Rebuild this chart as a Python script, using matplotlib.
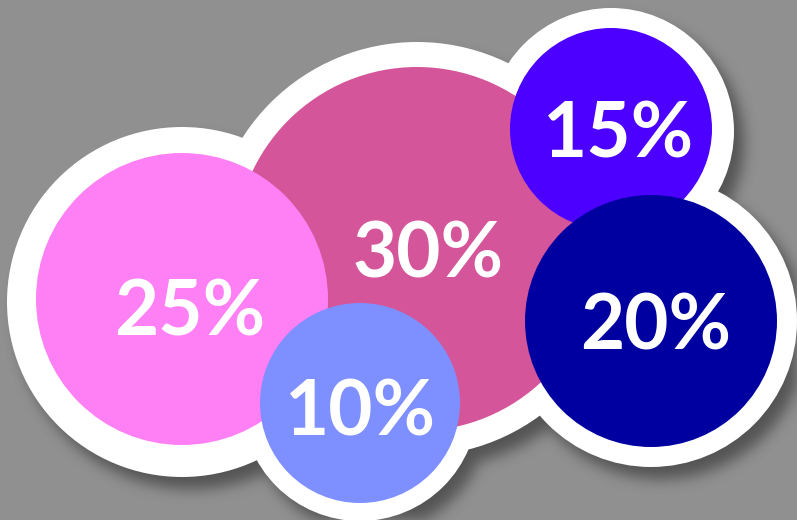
import numpy as np
import matplotlib
matplotlib.use("Agg")
import matplotlib.pyplot as plt
from matplotlib.patches import Circle

# Bubble values and colours
labels = ["30%", "25%", "15%", "20%", "10%"]
values = [30, 25, 15, 20, 10]
colors = ["#d5559a", "#ff80f4", "#4c00ff", "#0000a0", "#7e8fff"]

# Layout in pixel units (drawing order: back to front)
cx = [417, 182, 611, 651, 360]
cy = [249, 299, 129, 321, 403]
radius = [182, 146, 101, 126, 100]
# white halo behind each bubble
halo_cy = [249, 302, 131, 321, 403]
halo_r = [207, 175, 123, 146, 118]
# label anchor (centre x, baseline y)
text_x = [428, 190, 619, 656, 361]
text_y = [278, 335, 158, 350, 435]

W, H = 797, 520
bg = "#909090"

fig = plt.figure(figsize=(W / 100, H / 100), dpi=100, facecolor=bg)
ax = fig.add_axes([0, 0, 1, 1])
ax.set_facecolor(bg)
ax.set_xlim(0, W)
ax.set_ylim(H, 0)
ax.set_aspect("equal")
ax.axis("off")

# soft drop shadow of the white shape
yy, xx = np.mgrid[0:H, 0:W] + 0.5
mask = np.zeros((H, W))
dx, dy = 10, 12
for x, y, r in zip(cx, halo_cy, halo_r):
    mask[(xx - x - dx) ** 2 + (yy - y - dy) ** 2 <= r ** 2] = 1.0

sigma = 7
k = np.arange(-3 * sigma, 3 * sigma + 1)
kern = np.exp(-k ** 2 / (2 * sigma ** 2))
kern /= kern.sum()
blur = np.apply_along_axis(lambda m: np.convolve(m, kern, mode="same"), 1, mask)
blur = np.apply_along_axis(lambda m: np.convolve(m, kern, mode="same"), 0, blur)

shadow = np.zeros((H, W, 4))
shadow[..., 3] = blur * 0.42
ax.imshow(shadow, extent=[0, W, H, 0], interpolation="bilinear", zorder=1)

# white halos first, then the coloured bubbles on top
for x, y, r in zip(cx, halo_cy, halo_r):
    ax.add_patch(Circle((x, y), r, facecolor="white", edgecolor="none", zorder=2))

for x, y, r, c in zip(cx, cy, radius, colors):
    ax.add_patch(Circle((x, y), r, facecolor=c, edgecolor="none", zorder=3))

for tx, ty, lab in zip(text_x, text_y, labels):
    ax.text(tx, ty, lab, color="white", fontsize=55, fontweight="bold",
            family=["Lato", "DejaVu Sans"], ha="center", va="baseline", zorder=4)

fig.savefig("out.png", dpi=100, facecolor=bg)
